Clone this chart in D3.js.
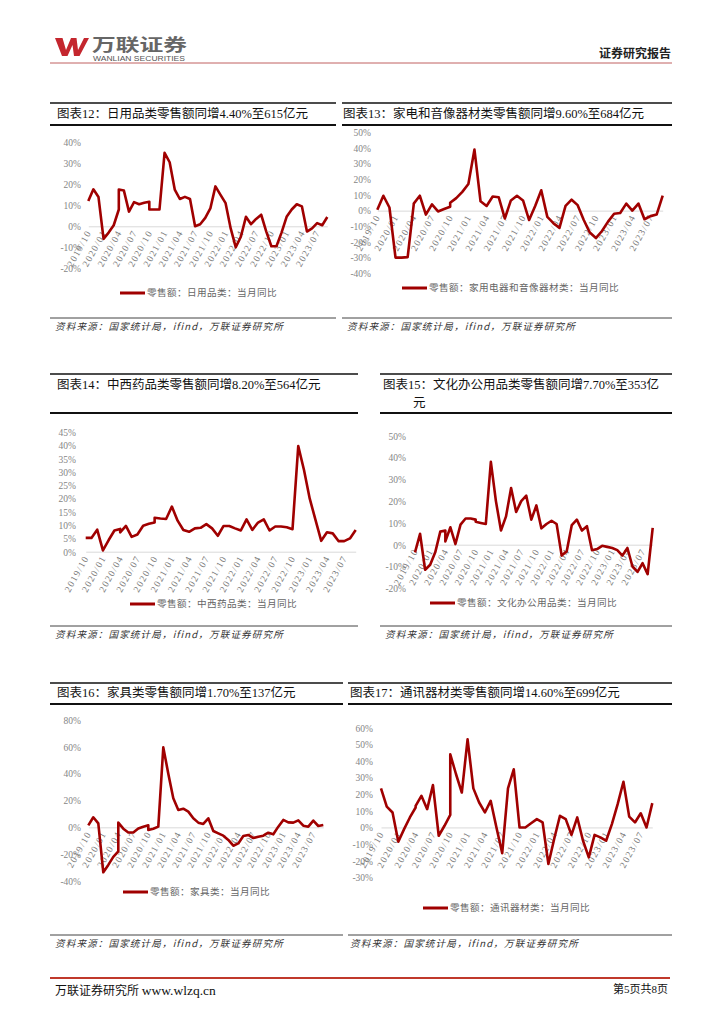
<!DOCTYPE html>
<html><head><meta charset="utf-8">
<script src="https://cdn.jsdelivr.net/npm/d3@7"></script>
<style>body{margin:0;background:#fff}svg{display:block}</style>
</head><body>
<svg id="page" width="724" height="1024"></svg>
<script>
// ---------------- DATA ----------------
const dates = ["2019/10","2019/11","2019/12","2020/01","2020/02","2020/03","2020/04","2020/04","2020/05","2020/06",
"2020/07","2020/08","2020/09","2020/10","2020/10","2020/11","2020/12","2021/01","2021/02","2021/03",
"2021/04","2021/05","2021/06","2021/07","2021/08","2021/09","2021/10","2021/11","2021/12","2022/01",
"2022/02","2022/03","2022/04","2022/05","2022/06","2022/07","2022/08","2022/09","2022/10","2022/11",
"2022/12","2023/01","2023/02","2023/03","2023/04","2023/05","2023/06","2023/07","2023/08","2023/09"];
const tickLabels = ["2019/10","2020/01","2020/04","2020/07","2020/10","2021/01","2021/04","2021/07",
"2021/10","2022/01","2022/04","2022/07","2022/10","2023/01","2023/04","2023/07"];

const dailyGoods = [12,17.6,14,-6,-3,0.5,8,17.5,17,7,11.5,10.5,11.2,11.7,8,8,8,35,30.5,17.5,13,14,13,0,1,4,8.5,19,15,11,-1,-10,-5,4.5,1,3.5,5.5,-2.5,-9.5,-9.5,-3,4.5,8,10.5,9.5,-2.5,-1,1.5,0.5,4.4];
const appliances = [0.5,9.5,2,-30,-30,-29.7,4,4.5,9.5,-2.5,4,-0.5,1,2.5,5,8,12,17,39,6,3,9,8.5,-5,6.5,9.5,6.5,-6,3,13,-4,-8,-11,3,7,3.5,-6,-14,-17.5,-13,-7,-2,-1.5,4.5,0,4.5,-5.5,-3.5,-2.5,9.6];
const medicine = [5.2,5.2,8.3,0.5,4.4,8,8.6,7.3,9.7,5.6,6.5,9.8,10.5,11,12.8,12.5,12.3,17,11.7,8.2,7.5,8.8,9,10.4,8.8,6,9.7,9.7,8.8,8,12.2,8.2,11,12.2,8,9.5,9.5,9.2,8.5,39.8,30.8,20,12,4.1,7.3,6.9,4,4,5,8.2];
const office = [-3.5,5,-11.5,-9.2,-3.5,6,6.5,1.5,8,0.3,9.2,12,12,11.5,10.5,10,9.5,38,20,6.5,13,26,15,20,22.5,11.5,18,7.5,9.5,11,9.5,-5,-3,9,11.5,6.5,8.5,-2.5,-2,-0.5,-1,-1.5,-2.5,-5,-1.5,-10,-12.5,-8.5,-13.5,7.7];
const furniture = [1.5,7.5,3,-33.5,-28,-22,-18,3.5,-1,-3.8,-3.8,-0.8,0.5,1.5,-2,-1,0.5,59.6,40,21.6,13,13.9,11.7,6.7,3.5,2.5,6.7,-2.7,-4.5,-6.2,-9.4,-13.7,-12,-6.5,-5.7,-8,-7,-6.2,-4,-5.2,0.5,5.5,3.7,3.5,5.2,1.2,0.5,5,1,1.7];
const telecom = [23.5,12.5,9,-8.6,-1,6,12,13,19,11,25.5,-5,1,7.5,44,32,21,53,23.5,15,9,16,0,-15.5,23.5,35,0,0,2.5,5,3,-22,-7,7,5,-4.5,6,-8,-18,-4.5,-6,-8,2,14,27.5,6.5,3,8.5,0,14.6];

const titles = ["图表12：日用品类零售额同增4.40%至615亿元","图表13：家电和音像器材类零售额同增9.60%至684亿元",
"图表14：中西药品类零售额同增8.20%至564亿元","图表15：文化办公用品类零售额同增7.70%至353亿",
"图表16：家具类零售额同增1.70%至137亿元","图表17：通讯器材类零售额同增14.60%至699亿元"];
const legends = ["零售额：日用品类：当月同比","零售额：家用电器和音像器材类：当月同比","零售额：中西药品类：当月同比",
"零售额：文化办公用品类：当月同比","零售额：家具类：当月同比","零售额：通讯器材类：当月同比"];
const yDomains = [[-20,40],[-40,50],[0,45],[-20,50],[-40,80],[-30,60]];
const ySteps = [10,10,5,10,20,10];
const sourceText = "资料来源：国家统计局，ifind，万联证券研究所";

// ---------------- LAYOUT ----------------
const RED = "#a00000";
const serif = "'Liberation Serif','Noto Sans CJK SC',serif";
const cjk = "'Noto Sans CJK SC','Liberation Serif',sans-serif";
const layouts = [
 {x0:88.3,x1:327.3,yTop:142.3,yBot:268.3,lab:81,tx:57,ty:118,lgx:120,lgy:293},
 {x0:377.3,x1:662.7,yTop:132.3,yBot:273.3,lab:371,tx:343,ty:118,lgx:402,lgy:288},
 {x0:85.7,x1:355.7,yTop:432.3,yBot:551.7,lab:76,tx:57,ty:389,lgx:130,lgy:604},
 {x0:415,x1:652.7,yTop:435.7,yBot:588.3,lab:406,tx:383,ty:389,lgx:430,lgy:603},
 {x0:88.3,x1:323.3,yTop:720,yBot:881,lab:81,tx:57,ty:697,lgx:123,lgy:892},
 {x0:381,x1:652.3,yTop:727.7,yBot:877.3,lab:373,tx:350,ty:697,lgx:423,lgy:908}
];
const seriesList = [dailyGoods, appliances, medicine, office, furniture, telecom];

const svg = d3.select("#page");
svg.append("rect").attr("width",724).attr("height",1024).attr("fill","#fff");

// Header
const hdr = svg.append("g");
hdr.append("path").attr("d","M55,38 L62.5,38 L66,50 L71,38 L76.5,38 L78,50 L84,38 L89,38 L79.5,56 L74,56 L72.5,45 L67.5,56 L62,56 Z").attr("fill","#c4262e");
hdr.append("text").attr("x",92).attr("y",50.5).text("万联证券")
  .attr("font-family",cjk).attr("font-weight","bold").attr("font-size",16.5)
  .attr("textLength",95).attr("lengthAdjust","spacingAndGlyphs").attr("fill","#666");
hdr.append("text").attr("x",93).attr("y",60.8).text("WANLIAN SECURITIES")
  .attr("font-family","'Liberation Sans',sans-serif").attr("font-size",7)
  .attr("textLength",92).attr("lengthAdjust","spacingAndGlyphs").attr("fill","#555");
hdr.append("text").attr("x",671).attr("y",58).attr("text-anchor","end").text("证券研究报告")
  .attr("font-family",cjk).attr("font-weight","bold").attr("font-size",12).attr("fill","#222");
hdr.append("line").attr("x1",50).attr("x2",672).attr("y1",63).attr("y2",63).attr("stroke","#c06060").attr("stroke-width",1);

// Row rules
function rule(x1,x2,y,w){svg.append("line").attr("x1",x1).attr("x2",x2).attr("y1",y).attr("y2",y).attr("stroke","#111").attr("stroke-width",w);}
[[50,336,342,672,103,125,318,330,55,347],[50,358,380,672,374,413,626,638,55,385],[50,343,348,672,683,704,935,947,55,350]]
.forEach(r=>{
  rule(r[0],r[1],r[4],1.6); rule(r[2],r[3],r[4],1.6);
  rule(r[0],r[1],r[5],2); rule(r[2],r[3],r[5],2);
  rule(r[0],r[1],r[6],0.8); rule(r[2],r[3],r[6],0.8);
  [r[8],r[9]].forEach(sx=>svg.append("text").attr("x",sx).attr("y",r[7]).text(sourceText)
    .attr("font-family",cjk).attr("font-size",9.6).attr("font-style","italic").attr("letter-spacing",1.1).attr("fill","#333"));
});

// Charts
const months = Array.from(new Set(dates));
seriesList.forEach((vals,k)=>{
  const L = layouts[k];
  const g = svg.append("g");
  const x = d3.scalePoint().domain(months).range([L.x0,L.x1]);
  const y = d3.scaleLinear().domain(yDomains[k]).range([L.yBot,L.yTop]);
  // title
  g.append("text").attr("x",L.tx).attr("y",L.ty).text(titles[k])
    .attr("font-family",serif).attr("font-size",12.5).attr("fill","#111");
  if(k===3){
    g.append("text").attr("x",413).attr("y",407).text("元")
      .attr("font-family",serif).attr("font-size",12.5).attr("fill","#111");
  }
  // y axis
  const ticks = d3.range(yDomains[k][0], yDomains[k][1]+0.001, ySteps[k]);
  const ya = g.append("g").attr("transform",`translate(${L.lab},0)`)
    .call(d3.axisLeft(y).tickValues(ticks).tickSize(0).tickPadding(0).tickFormat(d=>d+"%"));
  ya.select(".domain").remove();
  ya.selectAll("text").attr("font-family",serif).attr("font-size",9.5).attr("fill","#858585").attr("dy","0.35em");
  // x axis at 0
  const xa = g.append("g").attr("transform",`translate(0,${y(0)})`)
    .call(d3.axisBottom(x).tickValues(tickLabels).tickSize(0).tickPadding(0));
  xa.select(".domain").attr("stroke","#d9d9d9").attr("stroke-width",1);
  xa.selectAll("text").attr("font-family",serif).attr("font-size",9.5).attr("letter-spacing",1.3)
    .attr("fill","#7a7a7a").attr("text-anchor","end").attr("y",0).attr("dy",0)
    .attr("transform","translate(3,6) rotate(-61)");
  // line
  const line = d3.line().x((d,i)=>x(dates[i])).y(d=>y(d));
  g.append("path").datum(vals).attr("d",line).attr("fill","none").attr("stroke",RED)
    .attr("stroke-width",2.6).attr("stroke-linejoin","round");
  // legend
  g.append("line").attr("x1",L.lgx).attr("x2",L.lgx+25).attr("y1",L.lgy).attr("y2",L.lgy)
    .attr("stroke",RED).attr("stroke-width",3);
  g.append("text").attr("x",L.lgx+27).attr("y",L.lgy).attr("dy","0.35em").text(legends[k])
    .attr("font-family",cjk).attr("font-size",9.6).attr("letter-spacing",0.4).attr("fill","#666");
});

// Footer
svg.append("line").attr("x1",50).attr("x2",670).attr("y1",978).attr("y2",978).attr("stroke","#c0392b").attr("stroke-width",2.2);
const ft = svg.append("text").attr("x",55).attr("y",995).attr("fill","#111");
ft.append("tspan").text("万联证券研究所 ").attr("font-family",cjk).attr("font-size",12);
ft.append("tspan").text("www.wlzq.cn").attr("font-family",serif).attr("font-size",13.5);
svg.append("text").attr("x",668).attr("y",993).attr("text-anchor","end").text("第5页共8页")
  .attr("font-family",serif).attr("font-size",11).attr("fill","#111");
</script>
</body></html>
